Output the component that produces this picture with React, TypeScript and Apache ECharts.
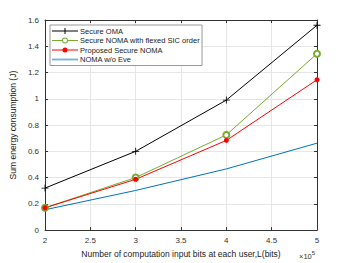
import React, { useEffect, useRef } from "react";
import * as echarts from "echarts";

const xValues = [2, 3, 4, 5];
const omaValues = [0.32, 0.6, 0.99, 1.56];
const fixedSicValues = [0.17, 0.4, 0.725, 1.343];
const proposedValues = [0.17, 0.387, 0.683, 1.145];
const noEveValues = [0.155, 0.302, 0.466, 0.662];
const seriesNames = [
  "Secure OMA",
  "Secure NOMA with flexed SIC order",
  "Proposed Secure NOMA",
  "NOMA w/o Eve",
];

const pair = (vals: number[]) => xValues.map((x, i) => [x, vals[i]]);
const plusPath = "path://M4.4,0h1.2v10h-1.2zM0,4.4h10v1.2h-10z";

const iconPlus = "path://M0,4h26v1h-26zM12.5,1.5h1v6h-1z";
const iconRing =
  "path://M0,4h10v1h-10zM16,4h10v1h-10zM13,1.5a3,3 0 1,1 0,6a3,3 0 1,1 0,-6zM13,2.5a2,2 0 1,0 0,4a2,2 0 1,0 0,-4z";
const iconDot = "path://M0,4h26v1h-26zM13,2a2.5,2.5 0 1,1 0,5a2.5,2.5 0 1,1 0,-5z";
const iconBar = "path://M0,3.6h26v1.8h-26z";

export default function App() {
  const ref = useRef<HTMLDivElement>(null);
  useEffect(() => {
    const chart = echarts.init(ref.current!, null, { renderer: "svg" });
    const font = "Liberation Sans, Arial, sans-serif";
    const axisCommon = {
      axisLine: { show: true, onZero: false, lineStyle: { color: "#333", width: 1 } },
      axisTick: { show: true, inside: true, length: 3, lineStyle: { color: "#333" } },
    };
    const legendItem = (name: string, icon: string, color: string) => ({
      name,
      icon,
      itemStyle: { color, borderWidth: 0, borderColor: color },
    });
    chart.setOption({
      animation: false,
      backgroundColor: "#fff",
      textStyle: { fontFamily: font },
      grid: { left: 45, right: 33, top: 20, bottom: 29 },
      legend: {
        orient: "vertical",
        left: 50,
        top: 25,
        backgroundColor: "#fff",
        borderColor: "#999",
        borderWidth: 1,
        borderRadius: 0,
        padding: [2, 2, 2, 2],
        itemGap: 1.5,
        itemWidth: 26,
        itemHeight: 9,
        symbolKeepAspect: true,
        itemStyle: { borderWidth: 0 },
        textStyle: { fontSize: 7.5, color: "#222", fontFamily: font, padding: [0, 0, 0, -3] },
        data: [
          legendItem(seriesNames[0], iconPlus, "#000"),
          legendItem(seriesNames[1], iconRing, "#77ac30"),
          legendItem(seriesNames[2], iconDot, "#ff0000"),
          legendItem(seriesNames[3], iconBar, "#6fb1e4"),
        ],
      },
      xAxis: [
        {
          type: "value",
          min: 2,
          max: 5,
          interval: 0.5,
          position: "bottom",
          ...axisCommon,
          axisLabel: { fontSize: 8, color: "#333", margin: 6 },
          splitLine: { show: true, lineStyle: { color: "#e6e6e6", width: 1 } },
          name: "Number of computation input bits at each user,L(bits)",
          nameLocation: "middle",
          nameGap: 17,
          nameTextStyle: { fontSize: 8.5, color: "#222" },
        },
        {
          type: "value",
          min: 2,
          max: 5,
          interval: 0.5,
          position: "top",
          ...axisCommon,
          axisLabel: { show: false },
          splitLine: { show: false },
        },
      ],
      yAxis: [
        {
          type: "value",
          min: 0,
          max: 1.6,
          interval: 0.2,
          position: "left",
          ...axisCommon,
          axisLabel: { fontSize: 8, color: "#333", margin: 6 },
          splitLine: { show: true, lineStyle: { color: "#e6e6e6", width: 1 } },
          name: "Sum energy consumption (J)",
          nameLocation: "middle",
          nameGap: 26,
          nameTextStyle: { fontSize: 8.5, color: "#222" },
        },
        {
          type: "value",
          min: 0,
          max: 1.6,
          interval: 0.2,
          position: "right",
          ...axisCommon,
          axisLabel: { show: false },
          splitLine: { show: false },
        },
      ],
      graphic: [
        {
          type: "text",
          left: 299,
          top: 250,
          style: {
            text: "{a|×10}{b|5}",
            rich: {
              a: { fontSize: 7.5, fill: "#333", fontFamily: font },
              b: { fontSize: 6, fill: "#333", fontFamily: font, verticalAlign: "bottom", padding: [0, 0, 6, 0] },
            },
          },
        },
      ],
      series: [
        {
          name: seriesNames[0],
          type: "line",
          data: pair(omaValues),
          symbol: plusPath,
          symbolSize: 7,
          showAllSymbol: true,
          lineStyle: { color: "#000", width: 1 },
          itemStyle: { color: "#000" },
        },
        {
          name: seriesNames[1],
          type: "line",
          data: pair(fixedSicValues),
          symbol: "emptyCircle",
          symbolSize: 6,
          lineStyle: { color: "#77ac30", width: 1 },
          itemStyle: { color: "#77ac30", borderColor: "#77ac30", borderWidth: 1 },
        },
        {
          name: seriesNames[2],
          type: "line",
          data: pair(proposedValues),
          symbol: "circle",
          symbolSize: 5,
          lineStyle: { color: "#ff0000", width: 1 },
          itemStyle: { color: "#ff0000" },
        },
        {
          name: seriesNames[3],
          type: "line",
          data: pair(noEveValues),
          symbol: "none",
          showSymbol: false,
          lineStyle: { color: "#0072bd", width: 1 },
          itemStyle: { color: "#0072bd" },
        },
      ],
    });
    return () => chart.dispose();
  }, []);
  return <div ref={ref} style={{ width: 350, height: 263, position: "absolute", left: 0, top: 0 }} />;
}
